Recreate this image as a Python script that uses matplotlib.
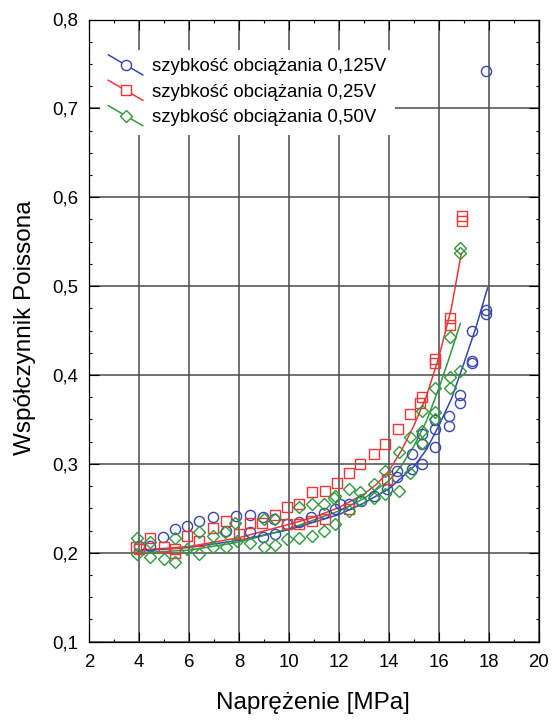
import numpy as np
import matplotlib
matplotlib.use("Agg")
import matplotlib.pyplot as plt
from matplotlib.lines import Line2D
from matplotlib.legend_handler import HandlerLine2D
from matplotlib.ticker import MultipleLocator, FuncFormatter

plt.rcParams['font.family'] = ['Liberation Sans', 'DejaVu Sans']

# ---------------- data ----------------
labels = ["szybkość obciążania 0,125V", "szybkość obciążania 0,25V", "szybkość obciążania 0,50V"]
colors = ["#3546b0", "#f03535", "#2f9a3c"]
markers = ["o", "s", "D"]

blue_x = [4.0, 4.46, 4.98, 5.45, 5.93, 6.42, 6.95, 7.49, 7.9, 8.46, 8.95, 9.4, 8.46, 8.98, 9.46,
          9.93, 10.4, 10.9, 11.4, 11.86, 12.06, 12.4, 12.9, 13.4, 13.93, 14.33, 14.33, 14.93, 14.93,
          15.33, 15.33, 15.33, 15.86, 15.86, 15.86, 16.39, 16.39, 16.86, 16.86, 17.33, 17.33, 17.33,
          17.9, 17.9, 17.9]
blue_y = [0.208, 0.208, 0.218, 0.227, 0.230, 0.236, 0.240, 0.224, 0.241, 0.243, 0.240, 0.238, 0.223, 0.218, 0.221,
          0.232, 0.235, 0.240, 0.245, 0.249, 0.255, 0.255, 0.258, 0.264, 0.272, 0.285, 0.292, 0.294, 0.311,
          0.300, 0.322, 0.334, 0.319, 0.339, 0.349, 0.343, 0.354, 0.368, 0.377, 0.413, 0.416, 0.449,
          0.469, 0.473, 0.742]

red_x = [3.9, 3.99, 4.46, 4.99, 5.46, 5.46, 5.93, 6.42, 6.95, 7.49, 7.99, 8.46, 8.93, 9.46, 9.93,
         9.93, 10.39, 10.39, 10.93, 10.93, 11.46, 11.46, 11.93, 12.39, 12.39, 12.86, 13.39, 13.86, 13.93,
         14.38, 14.86, 15.26, 15.33, 15.86, 15.86, 16.43, 16.43, 16.93, 16.93]
red_y = [0.207, 0.204, 0.217, 0.207, 0.204, 0.200, 0.219, 0.213, 0.228, 0.236, 0.221, 0.234, 0.234, 0.243, 0.251,
         0.232, 0.255, 0.232, 0.268, 0.236, 0.270, 0.238, 0.279, 0.290, 0.249, 0.300, 0.311, 0.322, 0.283,
         0.339, 0.356, 0.368, 0.375, 0.414, 0.418, 0.456, 0.464, 0.573, 0.579]

green_x = [3.93, 3.93, 4.46, 4.46, 4.99, 5.46, 5.46, 5.93, 6.42, 6.42, 6.95, 6.95, 7.49, 7.46, 7.86,
           7.93, 8.46, 8.99, 8.99, 9.46, 9.46, 9.93, 10.39, 10.39, 10.93, 10.93, 11.39, 11.39, 11.8,
           11.86, 11.86, 12.39, 12.39, 12.86, 12.86, 13.39, 13.39, 13.86, 13.86, 14.39, 14.39, 14.86,
           14.86, 15.33, 15.33, 15.33, 15.86, 15.86, 15.86, 16.43, 16.43, 16.43, 16.86, 16.86, 16.86]
green_y = [0.217, 0.199, 0.212, 0.195, 0.193, 0.190, 0.217, 0.204, 0.199, 0.223, 0.206, 0.219, 0.206, 0.223, 0.234,
           0.213, 0.211, 0.206, 0.238, 0.209, 0.238, 0.215, 0.217, 0.251, 0.219, 0.255, 0.224, 0.255, 0.262,
           0.232, 0.264, 0.247, 0.272, 0.259, 0.268, 0.262, 0.277, 0.266, 0.292, 0.270, 0.313, 0.290,
           0.330, 0.324, 0.337, 0.360, 0.350, 0.358, 0.385, 0.385, 0.398, 0.443, 0.405, 0.537, 0.543]

# fitted trend lines
blue_fit_x = [4, 6, 8, 10, 12, 13, 14, 15, 15.5, 16, 16.5, 17, 17.5, 17.95]
blue_fit_y = [0.202, 0.206, 0.214, 0.226, 0.243, 0.256, 0.272, 0.297, 0.316, 0.343, 0.373, 0.413, 0.455, 0.498]
red_fit_x = [4, 6, 8, 10, 11, 12, 13, 13.5, 14, 14.5, 15, 15.5, 16, 16.5, 16.9]
red_fit_y = [0.203, 0.207, 0.217, 0.232, 0.240, 0.251, 0.266, 0.277, 0.292, 0.315, 0.343, 0.376, 0.420, 0.475, 0.537]
green_fit_x = [4, 6, 8, 10, 12, 13, 14, 14.5, 15, 15.5, 16, 16.4, 16.86]
green_fit_y = [0.200, 0.203, 0.212, 0.227, 0.247, 0.261, 0.281, 0.298, 0.320, 0.348, 0.385, 0.418, 0.458]

series = [(blue_x, blue_y, blue_fit_x, blue_fit_y),
          (red_x, red_y, red_fit_x, red_fit_y),
          (green_x, green_y, green_fit_x, green_fit_y)]
msizes = [7.3, 7.8, 6.3]

# ---------------- figure ----------------
fig = plt.figure(figsize=(5.53, 7.23), dpi=100)
ax = fig.add_axes([89 / 553, 1 - 641.7 / 723, (538.8 - 89) / 553, (641.7 - 19.5) / 723])

handles = []
for (sx, sy, fx, fy), c, m, ms, lab in zip(series, colors, markers, msizes, labels):
    ax.plot(fx, fy, color=c, lw=1.1, zorder=3)
    ax.plot(sx, sy, linestyle='none', marker=m, ms=ms, mfc='none', mec=c, mew=1.0, zorder=4)
    handles.append(Line2D([], [], color=c, lw=1.1, marker=m, ms=ms, mfc='white', mec=c, mew=1.0, label=lab))

ax.set_xlim(2, 20)
ax.set_ylim(0.1, 0.8)
ax.xaxis.set_major_locator(MultipleLocator(2))
ax.xaxis.set_minor_locator(MultipleLocator(1))
ax.yaxis.set_major_locator(MultipleLocator(0.1))
ax.yaxis.set_minor_locator(MultipleLocator(0.025))
ax.yaxis.set_major_formatter(FuncFormatter(lambda v, p: f"{v:.1f}".replace('.', ',')))
ax.grid(True, which='major', color='#4a4a4a', lw=1.1, zorder=1)
ax.tick_params(which='both', direction='in', top=True, right=True, labelsize=13.4, color='black')
ax.tick_params(which='major', length=7.5, width=0.8)
ax.tick_params(which='minor', length=2.5, width=0.8)
ax.tick_params(axis='x', which='major', pad=9)
ax.tick_params(axis='y', which='major', pad=8)
for s in ax.spines.values():
    s.set_linewidth(0.9)
    s.set_color('black')

fig.text(313 / 553, 1 - 703 / 723, "Naprężenie [MPa]", ha='center', va='center', fontsize=17.5)
fig.text(25 / 553, 1 - 328 / 723, "Współczynnik Poissona", ha='center', va='center', rotation=90, fontsize=17.5)


class DiagHandler(HandlerLine2D):
    def create_artists(self, legend, orig_handle, xdescent, ydescent, width, height, fontsize, trans):
        x0 = -xdescent
        x1 = -xdescent + width
        yc = -ydescent + height / 2
        dy = 10 / 1.389
        line = Line2D([x0, x1], [yc + dy, yc - dy], color=orig_handle.get_color(), lw=orig_handle.get_linewidth())
        mk = Line2D([(x0 + x1) / 2], [yc], linestyle='none', marker=orig_handle.get_marker(),
                    ms=orig_handle.get_markersize(), mfc='white', mec=orig_handle.get_markeredgecolor(),
                    mew=orig_handle.get_markeredgewidth())
        line.set_transform(trans)
        mk.set_transform(trans)
        return [line, mk]


leg = ax.legend(handles=handles, loc='upper left', bbox_to_anchor=(100 / 553, 1 - 50 / 723),
                bbox_transform=fig.transFigure, borderaxespad=0, fontsize=13.4,
                handlelength=1.85, handletextpad=0.5, labelspacing=0.45, borderpad=0.45,
                frameon=True, fancybox=False, handler_map={Line2D: DiagHandler()})
leg.get_frame().set_facecolor('white')
leg.get_frame().set_edgecolor('none')
leg.get_frame().set_alpha(1)
leg.set_zorder(5)

fig.savefig("out.png", dpi=100)
